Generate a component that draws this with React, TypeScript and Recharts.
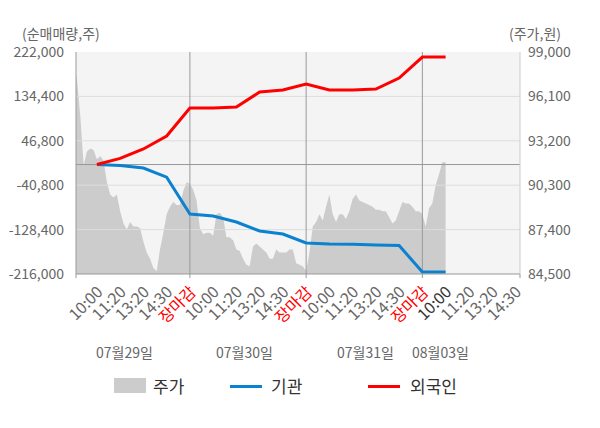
import { Area, ComposedChart, CartesianGrid, Line, ReferenceLine, XAxis, YAxis } from 'recharts'

// x unit = one label slot; each trading day spans 5 slots (4 on the last day)
const timeLabels = [
  '', '10:00', '11:20', '13:20', '14:30', '장마감',
  '10:00', '11:20', '13:20', '14:30', '장마감',
  '10:00', '11:20', '13:20', '14:30', '장마감',
  '10:00', '11:20', '13:20', '14:30',
]
const dayLabels = ['07월29일', '07월30일', '07월31일', '08월03일']
const flowTicks = [-216000, -128400, -40800, 46800, 134400, 222000]
const priceTicks = [84500, 87400, 90300, 93200, 96100, 99000]

// 주가, sampled 7 times per slot from the first session open
const prices = [
  98300, 97200, 94800, 91600, 92500, 92700, 92600, 92000, 92200, 91900,
  90500, 89700, 89500, 89700, 88600, 87800, 87400, 87900, 87600, 87600,
  87500, 86600, 85900, 85500, 84900, 84700, 86100, 87200, 88400, 88900,
  89200, 89000, 89000, 89900, 90500, 90400, 90000, 89300, 87500, 87100,
  87200, 87200, 87000, 88400, 88500, 88200, 86900, 86900, 86700, 86100,
  86000, 85500, 85100, 85000, 86300, 86500, 86300, 86100, 85900, 85500,
  85500, 86100, 85900, 85900, 85900, 86100, 86100, 85200, 85100, 85000,
  84700, 85900, 87600, 87900, 88400, 88000, 88900, 89700, 88400, 87900,
  88400, 88400, 88100, 88600, 89400, 89700, 89300, 89200, 89100, 89000,
  88900, 88700, 88700, 88600, 88600, 88200, 87800, 88000, 88600, 89200,
  89100, 89100, 88900, 88600, 88600, 88400, 87600, 88800, 89100, 90300,
  91000, 91800, 91800,
]
const SAMPLES_PER_SLOT = 7

// cumulative net buying (주), one value per label slot
const flowSlots = [1, 2, 3, 4, 5, 6, 7, 8, 9, 10, 11, 12, 13, 14, 15, 16]
const institution = [
  0, -2000, -7000, -25000, -97600, -101600, -113400, -131200,
  -137100, -154800, -156800, -157200, -159000, -159800, -212000, -212000,
]
const foreign = [
  0, 12000, 30600, 56300, 111500, 111500, 113500, 143000,
  147000, 158900, 147000, 147000, 149000, 170700, 212100, 212100,
]

const data: { t: number; price: number; inst?: number; frgn?: number }[] = prices.map((p, k) => ({
  t: k / SAMPLES_PER_SLOT,
  price: p,
}))
flowSlots.forEach((s, i) => {
  const row = data[s * SAMPLES_PER_SLOT]
  row.inst = institution[i]
  row.frgn = foreign[i]
})

const X_MIN = 0.1
const X_MAX = 19.2
const xTicks = [X_MIN, ...timeLabels.map((_, i) => i).slice(1), X_MAX]
const boundaries = [X_MIN, 5, 10, 15, X_MAX]

const FONT = '"Noto Sans CJK KR", "Noto Sans", sans-serif'

function TimeTick(props: any) {
  const { x, y, payload } = props
  const v = payload.value as number
  const label = Number.isInteger(v) ? timeLabels[v] : ''
  const color = label === '장마감' ? '#ff0000' : v === 16 ? '#333333' : '#666666'
  return (
    <g transform={`translate(${x},${y})`}>
      {boundaries.includes(v) && <line x1={0} x2={0} y1={0} y2={4} stroke="#999999" />}
      {label && (
        <text
          x={0}
          y={0}
          transform="translate(3,15) rotate(-45)"
          textAnchor="end"
          dy="0.35em"
          fontSize={16}
          fontFamily={FONT}
          fill={color}
        >
          {label}
        </text>
      )}
    </g>
  )
}

const dayLabelLeft = [96, 216, 337, 412]

export default function App() {
  return (
    <div
      style={{
        position: 'absolute',
        left: 0,
        top: 0,
        width: 600,
        height: 428,
        background: '#fff',
        fontFamily: FONT,
      }}
    >
      <ComposedChart width={600} height={428} data={data} margin={{ top: 52, right: 0, bottom: 94, left: 0 }}>
        <CartesianGrid yAxisId="left" xAxisId="time" horizontal={false} vertical={false} fill="#f4f4f4" />
        <XAxis
          xAxisId="time"
          dataKey="t"
          type="number"
          domain={[X_MIN, X_MAX]}
          allowDataOverflow
          ticks={xTicks}
          interval={0}
          height={60}
          tickSize={0}
          tickMargin={0}
          tickLine={false}
          axisLine={{ stroke: '#999999' }}
          tick={(p: any) => <TimeTick {...p} />}
        />
        <YAxis
          yAxisId="left"
          orientation="left"
          width={76}
          domain={[-216000, 222000]}
          ticks={flowTicks}
          interval={0}
          tickLine={false}
          tickSize={10}
          tickMargin={2}
          axisLine={{ stroke: '#999999' }}
          tick={{ fill: '#666666', fontSize: 14, fontFamily: FONT }}
          tickFormatter={(v: number) => v.toLocaleString('en-US')}
        />
        <YAxis
          yAxisId="right"
          orientation="right"
          width={80}
          domain={[84500, 99000]}
          ticks={priceTicks}
          interval={0}
          tickLine={false}
          tickSize={6}
          tickMargin={2}
          axisLine={{ stroke: '#cccccc' }}
          tick={{ fill: '#666666', fontSize: 14, fontFamily: FONT, textAnchor: 'start' }}
          tickFormatter={(v: number) => v.toLocaleString('en-US')}
        />
        <Area
          xAxisId="time"
          yAxisId="right"
          dataKey="price"
          type="linear"
          fill="#cccccc"
          fillOpacity={1}
          stroke="none"
          isAnimationActive={false}
        />
        {flowTicks.slice(1, -1).map((v) => (
          <ReferenceLine key={v} xAxisId="time" yAxisId="left" y={v} stroke="#dddddd" />
        ))}
        <ReferenceLine xAxisId="time" yAxisId="left" y={0} stroke="#999999" />
        {[5, 10, 15].map((v) => (
          <ReferenceLine key={v} xAxisId="time" yAxisId="left" x={v} stroke="#999999" />
        ))}
        <Line
          xAxisId="time"
          yAxisId="left"
          dataKey="inst"
          type="linear"
          stroke="#0a82d0"
          strokeWidth={3}
          dot={false}
          activeDot={false}
          connectNulls
          isAnimationActive={false}
        />
        <Line
          xAxisId="time"
          yAxisId="left"
          dataKey="frgn"
          type="linear"
          stroke="#ff0000"
          strokeWidth={3}
          dot={false}
          activeDot={false}
          connectNulls
          isAnimationActive={false}
        />
      </ComposedChart>

      <div style={{ position: 'absolute', left: 22, top: 23, fontSize: 14, color: '#666', lineHeight: '20px' }}>
        (순매매량,주)
      </div>
      <div style={{ position: 'absolute', left: 509, top: 23, fontSize: 14, color: '#666', lineHeight: '20px' }}>
        (주가,원)
      </div>

      {dayLabels.map((d, i) => (
        <div
          key={d}
          style={{ position: 'absolute', left: dayLabelLeft[i], top: 342, fontSize: 14, color: '#666', lineHeight: '20px' }}
        >
          {d}
        </div>
      ))}

      <div style={{ position: 'absolute', left: 114, top: 378, width: 32, height: 15, background: '#cccccc' }} />
      <div style={{ position: 'absolute', left: 153, top: 374, fontSize: 17, color: '#333', lineHeight: '24px' }}>주가</div>
      <div style={{ position: 'absolute', left: 230, top: 385, width: 32, height: 3, background: '#0a82d0' }} />
      <div style={{ position: 'absolute', left: 271, top: 374, fontSize: 17, color: '#333', lineHeight: '24px' }}>기관</div>
      <div style={{ position: 'absolute', left: 368, top: 385, width: 32, height: 3, background: '#ff0000' }} />
      <div style={{ position: 'absolute', left: 410, top: 374, fontSize: 17, color: '#333', lineHeight: '24px' }}>외국인</div>
    </div>
  )
}
